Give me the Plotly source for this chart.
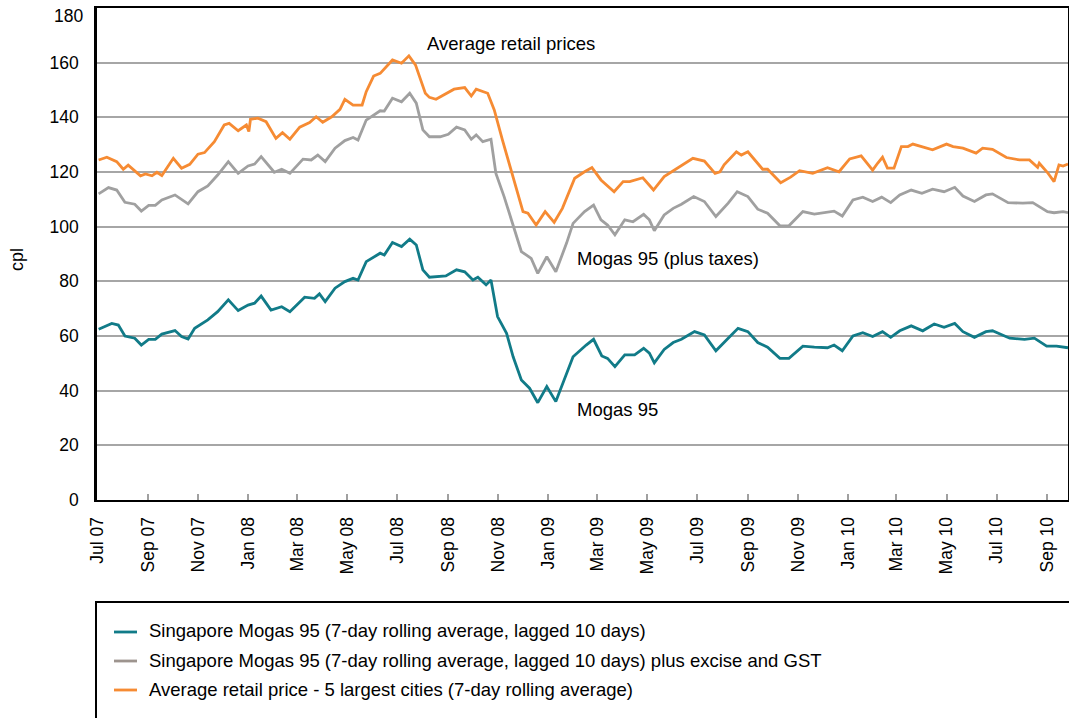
import plotly.graph_objects as go

# ---------------- data ----------------
mogas_dates = ["2007-07-03","2007-07-19","2007-07-27","2007-08-04","2007-08-16","2007-08-24","2007-09-02","2007-09-10","2007-09-18","2007-10-04","2007-10-12","2007-10-20","2007-10-28","2007-11-13","2007-11-25","2007-12-08","2007-12-20","2008-01-01","2008-01-09","2008-01-17","2008-01-29","2008-02-11","2008-02-21","2008-03-10","2008-03-22","2008-03-28","2008-04-04","2008-04-16","2008-04-28","2008-05-08","2008-05-14","2008-05-24","2008-06-10","2008-06-15","2008-06-25","2008-07-06","2008-07-16","2008-07-24","2008-08-01","2008-08-09","2008-08-29","2008-09-11","2008-09-21","2008-10-01","2008-10-07","2008-10-17","2008-10-23","2008-10-31","2008-11-11","2008-11-19","2008-11-29","2008-12-09","2008-12-19","2008-12-30","2009-01-10","2009-01-23","2009-01-31","2009-02-16","2009-02-25","2009-03-07","2009-03-14","2009-03-23","2009-04-04","2009-04-16","2009-04-27","2009-05-04","2009-05-10","2009-05-22","2009-06-02","2009-06-12","2009-06-28","2009-07-10","2009-07-24","2009-08-08","2009-08-20","2009-09-01","2009-09-13","2009-09-25","2009-10-10","2009-10-21","2009-11-07","2009-11-21","2009-12-07","2009-12-15","2009-12-25","2010-01-07","2010-01-19","2010-01-31","2010-02-12","2010-02-22","2010-03-05","2010-03-19","2010-04-02","2010-04-16","2010-04-28","2010-05-11","2010-05-21","2010-06-04","2010-06-18","2010-06-26","2010-07-17","2010-08-04","2010-08-16","2010-08-31","2010-09-12","2010-09-26"]
mogas_vals = [62.5,64.6,64.0,60.0,59.2,56.7,58.8,58.8,60.7,62.0,59.8,58.9,62.8,65.9,68.9,73.2,69.3,71.3,72.0,74.6,69.5,70.7,68.9,74.2,73.8,75.4,72.6,77.5,79.9,81.1,80.5,87.2,90.3,89.6,94.2,92.7,95.4,93.3,84.2,81.5,82.0,84.2,83.5,80.5,81.5,78.7,80.5,67.1,61.0,52.4,43.9,40.9,35.6,41.5,36.0,46.4,52.4,56.7,58.8,52.7,51.8,48.8,53.1,53.1,55.5,53.7,50.2,55.1,57.6,58.8,61.6,60.4,54.6,59.2,62.8,61.6,57.6,55.9,51.8,51.8,56.3,55.9,55.7,56.7,54.6,60.0,61.2,59.8,61.6,59.5,61.9,63.7,61.9,64.4,63.2,64.6,61.6,59.5,61.6,61.9,59.2,58.8,59.2,56.3,56.3,55.7]

taxed_dates = ["2007-07-03","2007-07-15","2007-07-25","2007-08-04","2007-08-16","2007-08-24","2007-09-02","2007-09-10","2007-09-18","2007-10-04","2007-10-20","2007-11-01","2007-11-13","2007-11-25","2007-12-08","2007-12-20","2008-01-01","2008-01-09","2008-01-17","2008-02-02","2008-02-11","2008-02-21","2008-03-08","2008-03-18","2008-03-26","2008-04-04","2008-04-16","2008-04-28","2008-05-08","2008-05-14","2008-05-24","2008-06-10","2008-06-15","2008-06-25","2008-07-06","2008-07-16","2008-07-24","2008-08-01","2008-08-09","2008-08-22","2008-09-01","2008-09-11","2008-09-21","2008-09-29","2008-10-05","2008-10-13","2008-10-23","2008-10-29","2008-11-08","2008-11-21","2008-11-29","2008-12-11","2008-12-19","2008-12-30","2009-01-10","2009-01-23","2009-01-31","2009-02-14","2009-02-25","2009-03-06","2009-03-14","2009-03-23","2009-04-04","2009-04-14","2009-04-27","2009-05-04","2009-05-10","2009-05-22","2009-06-02","2009-06-12","2009-06-27","2009-07-10","2009-07-24","2009-08-08","2009-08-19","2009-09-01","2009-09-13","2009-09-25","2009-10-10","2009-10-21","2009-11-07","2009-11-21","2009-12-05","2009-12-15","2009-12-25","2010-01-07","2010-01-19","2010-01-31","2010-02-11","2010-02-22","2010-03-05","2010-03-19","2010-04-01","2010-04-14","2010-04-28","2010-05-11","2010-05-21","2010-06-04","2010-06-18","2010-06-26","2010-07-15","2010-08-02","2010-08-14","2010-09-01","2010-09-09","2010-09-20","2010-09-26"]
taxed_vals = [112.0,114.3,113.4,108.9,108.2,105.7,107.8,107.8,109.8,111.6,108.3,112.8,114.9,118.9,123.8,119.5,122.2,122.9,125.6,119.9,121.0,119.5,124.7,124.4,126.2,123.8,128.7,131.5,132.6,131.7,139.0,142.4,142.3,147.0,145.7,148.8,145.2,135.4,132.9,132.9,133.8,136.4,135.4,132.0,133.6,131.1,132.0,119.5,111.0,98.2,90.9,88.4,82.9,89.0,83.5,93.9,101.2,105.5,107.9,102.5,100.6,97.0,102.5,101.8,104.5,102.5,98.5,104.3,106.7,108.2,111.0,109.2,103.7,108.6,112.8,111.0,106.4,104.9,100.3,100.3,105.5,104.6,105.1,105.7,103.9,109.8,110.8,109.2,110.8,108.8,111.6,113.4,112.2,113.7,112.8,114.4,111.2,109.2,111.6,112.0,108.8,108.6,108.8,105.5,105.1,105.5,105.1]

retail_dates = ["2007-07-03","2007-07-13","2007-07-25","2007-08-02","2007-08-08","2007-08-23","2007-08-29","2007-09-06","2007-09-12","2007-09-18","2007-10-02","2007-10-12","2007-10-22","2007-11-01","2007-11-09","2007-11-21","2007-12-03","2007-12-09","2007-12-20","2007-12-30","2008-01-02","2008-01-04","2008-01-13","2008-01-23","2008-02-04","2008-02-12","2008-02-21","2008-03-04","2008-03-16","2008-03-24","2008-04-01","2008-04-12","2008-04-22","2008-04-28","2008-05-08","2008-05-19","2008-05-24","2008-06-02","2008-06-10","2008-06-25","2008-07-06","2008-07-15","2008-07-23","2008-08-04","2008-08-09","2008-08-17","2008-09-08","2008-09-21","2008-09-29","2008-10-05","2008-10-19","2008-10-27","2008-11-06","2008-11-19","2008-12-01","2008-12-07","2008-12-17","2008-12-28","2009-01-08","2009-01-18","2009-02-02","2009-02-14","2009-02-23","2009-03-06","2009-03-22","2009-04-02","2009-04-10","2009-04-26","2009-05-09","2009-05-22","2009-06-07","2009-06-26","2009-07-10","2009-07-23","2009-07-29","2009-08-03","2009-08-18","2009-08-24","2009-09-01","2009-09-19","2009-09-25","2009-10-11","2009-10-23","2009-11-03","2009-11-19","2009-12-07","2009-12-21","2010-01-03","2010-01-17","2010-01-31","2010-02-06","2010-02-12","2010-02-18","2010-02-26","2010-03-07","2010-03-15","2010-03-21","2010-04-01","2010-04-14","2010-05-01","2010-05-09","2010-05-21","2010-06-06","2010-06-14","2010-06-26","2010-07-13","2010-07-29","2010-08-10","2010-08-20","2010-08-22","2010-09-01","2010-09-09","2010-09-15","2010-09-20","2010-09-26"]
retail_vals = [124.4,125.4,123.8,121.0,122.5,118.6,119.3,118.6,119.9,118.7,125.0,121.4,122.8,126.5,127.1,131.1,137.2,137.8,135.1,137.2,134.8,139.3,139.7,138.4,132.3,134.4,132.0,136.4,138.1,140.2,138.2,140.2,142.9,146.6,144.5,144.5,149.4,155.1,156.1,161.0,159.8,162.5,159.2,148.8,147.3,146.6,150.3,150.9,147.8,150.3,148.8,142.7,131.7,118.3,105.5,104.9,100.6,105.5,101.6,106.7,117.7,120.1,121.6,117.1,112.8,116.5,116.5,117.9,113.4,118.3,121.4,125.0,124.0,119.5,120.1,122.6,127.4,126.2,127.4,121.0,121.0,116.1,118.1,120.5,119.5,121.6,120.1,124.8,125.9,120.7,123.2,125.4,121.4,121.4,129.3,129.3,130.2,129.3,128.1,130.2,129.3,128.7,126.9,128.7,128.3,125.3,124.4,124.4,121.7,123.2,119.8,116.5,122.6,122.2,122.9]

series_names = [
    "Singapore Mogas 95 (7-day rolling average, lagged 10 days)",
    "Singapore Mogas 95 (7-day rolling average, lagged 10 days) plus excise and GST",
    "Average retail price - 5 largest cities (7-day rolling average)",
]
series_colors = ["#117b88", "#a0a0a0", "#f68b33"]
legend_colors = ["#117b88", "#9d948e", "#f68b33"]

y_ticks = [0, 20, 40, 60, 80, 100, 120, 140, 160, 180]
y_max = 180
# ----------------------------------------------------------------

FONT = "Liberation Sans, Arial, sans-serif"
W, H = 1069, 718
L, R, T, B = 97, 1, 8, 218
plot_w = W - L - R
plot_h = H - T - B

def px_x(px):
    return (px - L) / plot_w

def px_y(py):
    return (H - B - py) / plot_h

fig = go.Figure()
for d, v, name, col in zip([mogas_dates, taxed_dates, retail_dates],
                           [mogas_vals, taxed_vals, retail_vals],
                           series_names, series_colors):
    fig.add_trace(go.Scatter(x=d, y=v, mode="lines", name=name,
                             line=dict(color=col, width=2.8), showlegend=False))

# top tick label is drawn as an annotation slightly lowered so it is not clipped
tick_text = [str(t) if t != y_max else "" for t in y_ticks]

fig.update_layout(
    width=W, height=H,
    margin=dict(l=L, r=R, t=T, b=B, pad=0, autoexpand=False),
    paper_bgcolor="white", plot_bgcolor="white",
    font=dict(family=FONT, size=17, color="black"),
    xaxis=dict(
        range=["2007-07-01", "2010-09-26"],
        tickmode="linear", tick0="2007-07-01", dtick="M2",
        tickformat="%b %y", tickangle=-90,
        ticks="inside", ticklen=6, tickcolor="#a0a0a0", tickwidth=1.5,
        showgrid=False, showline=True, linecolor="black", linewidth=2,
        mirror=True, zeroline=False, automargin=False,
        ticklabelstandoff=8, ticklabeloverflow="allow",
        tickfont=dict(size=17.5),
    ),
    yaxis=dict(
        range=[0, y_max], tickvals=y_ticks, ticktext=tick_text,
        showgrid=True, gridcolor="#a6a6a6", gridwidth=1.5,
        showline=True, linecolor="black", linewidth=2.5, mirror=True,
        ticks="", zeroline=False, automargin=False,
        ticklabelstandoff=12, ticklabeloverflow="allow",
        tickfont=dict(size=17.5),
    ),
)

fig.add_annotation(text=str(y_max), xref="paper", yref="paper",
                   x=px_x(85), y=px_y(16), xanchor="right", yanchor="middle",
                   showarrow=False, font=dict(size=17.5))

# y-axis title
fig.add_annotation(text="cpl", xref="paper", yref="paper",
                   x=px_x(17), y=px_y(260), textangle=-90,
                   xanchor="center", yanchor="middle", showarrow=False,
                   font=dict(size=18))

# in-chart labels
labels = [("Average retail prices", 425, 43),
          ("Mogas 95 (plus taxes)", 575, 258),
          ("Mogas 95", 575, 409)]
for txt, lx, ly in labels:
    fig.add_annotation(text=txt, xref="paper", yref="paper",
                       x=px_x(lx), y=px_y(ly), xanchor="left", yanchor="middle",
                       showarrow=False, font=dict(size=18.5, color="black"))

# legend box (drawn below the plot)
fig.add_shape(type="rect", xref="paper", yref="paper",
              x0=px_x(96), x1=px_x(1075), y0=px_y(602), y1=px_y(725),
              line=dict(color="black", width=2), fillcolor="rgba(0,0,0,0)")
rows_y = [632, 661, 690]
for name, col, ry in zip(series_names, legend_colors, rows_y):
    fig.add_shape(type="line", xref="paper", yref="paper",
                  x0=px_x(114), x1=px_x(137), y0=px_y(ry), y1=px_y(ry),
                  line=dict(color=col, width=2.8))
    fig.add_annotation(text=name, xref="paper", yref="paper",
                       x=px_x(147), y=px_y(ry - 1), xanchor="left", yanchor="middle",
                       showarrow=False, font=dict(size=18.5, color="black"))

fig.write_html("out.html", config={"displayModeBar": False},
               post_script="document.body.style.margin='0';document.body.style.overflow='hidden';")
